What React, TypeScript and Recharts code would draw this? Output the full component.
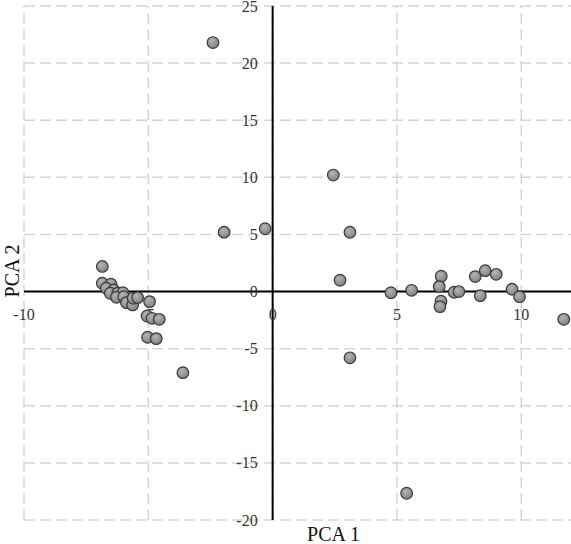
import { ScatterChart, Scatter, XAxis, YAxis, ReferenceLine, ReferenceDot } from 'recharts';

// PCA scores
const pcaX = [
  -2.4, -1.95, -0.3, -6.85, -6.85, -6.5, -6.69, -6.39, -6.53, -6.23, -6.02,
  -6.28, -5.99, -5.88, -5.63, -5.61, -5.43, -4.95, -5.05, -4.85, -4.56, -5.03,
  -4.68, -3.61, 2.44, 3.11, 2.71, 3.11, 4.76, 5.59, 5.39, 6.78, 6.7, 6.77,
  6.73, 7.3, 7.49, 8.15, 8.55, 8.99, 8.35, 9.63, 9.93, 11.71,
];
const pcaY = [
  21.8, 5.2, 5.5, 2.2, 0.73, 0.64, 0.29, 0.14, -0.15, -0.15, -0.1,
  -0.5, -0.45, -0.97, -1.17, -0.59, -0.53, -0.88, -2.14, -2.34, -2.43, -4.0,
  -4.12, -7.1, 10.2, 5.19, 0.99, -5.8, -0.1, 0.11, -17.66, 1.34, 0.43, -0.85,
  -1.32, -0.06, 0, 1.31, 1.83, 1.51, -0.36, 0.2, -0.45, -2.43,
];
const xTicks = [-10, -5, 0, 5, 10];
const yTicks = [-20, -15, -10, -5, 0, 5, 10, 15, 20, 25];

const points = pcaX.map((x, i) => ({ x, y: pcaY[i] }));

const font = "'Liberation Serif', 'Times New Roman', serif";

const Dot = (props: any) => (
  <circle cx={props.cx} cy={props.cy} r={5.8} fill="url(#dotFill)" stroke="#3a3a3a" strokeWidth={1.2} />
);

const gridStyle = { stroke: '#d6d6d6', strokeWidth: 1.5, strokeDasharray: '11 5' };

// tick label drawn next to a zero-radius reference dot sitting on the axis
const tickLabel = (value: number, side: 'x' | 'y') => (props: any) => {
  const vb = props.viewBox || {};
  const x = side === 'x' ? vb.x : vb.x - 15;
  const y = side === 'x' ? vb.y + 23 : vb.y;
  return (
    <text
      x={x}
      y={y}
      textAnchor={side === 'x' ? 'middle' : 'end'}
      dominantBaseline="central"
      fontSize={16}
      fill="#333"
      style={{ fontFamily: font }}
    >
      {value}
    </text>
  );
};

export default function App() {
  return (
    <div style={{ position: 'absolute', left: 0, top: 0, fontFamily: font }}>
      <ScatterChart width={571} height={544} margin={{ top: 6, right: 0, left: 0, bottom: 0 }}>
        <defs>
          <radialGradient id="dotFill" cx="40%" cy="35%" r="70%">
            <stop offset="0%" stopColor="#b4b4b4" />
            <stop offset="100%" stopColor="#7e7e7e" />
          </radialGradient>
        </defs>
        <XAxis
          type="number"
          dataKey="x"
          domain={[-10, 12]}
          ticks={xTicks}
          allowDataOverflow
          tick={false}
          axisLine={false}
          tickLine={false}
          height={24}
          label={{ value: 'PCA 1', position: 'center', dx: 36, dy: 2, fontSize: 20, fill: '#111', style: { fontFamily: font } }}
        />
        <YAxis
          type="number"
          dataKey="y"
          domain={[-20, 25]}
          ticks={yTicks}
          allowDataOverflow
          tick={false}
          axisLine={false}
          tickLine={false}
          width={24}
          label={{ value: 'PCA 2', position: 'center', angle: -90, dy: 8, fontSize: 20, fill: '#111', style: { fontFamily: font } }}
        />
        {xTicks.map((t) => (
          <ReferenceLine key={'gx' + t} x={t} {...gridStyle} />
        ))}
        {yTicks.map((t) => (
          <ReferenceLine key={'gy' + t} y={t} {...gridStyle} />
        ))}
        <ReferenceLine y={0} stroke="#000" strokeWidth={2} />
        <ReferenceLine x={0} stroke="#000" strokeWidth={2} />
        {xTicks.map((t) => (
          <ReferenceDot key={'xt' + t} x={t} y={0} r={0} stroke="none" label={{ content: tickLabel(t, 'x') }} />
        ))}
        {yTicks.map((t) => (
          <ReferenceDot key={'yt' + t} x={0} y={t} r={0} stroke="none" label={{ content: tickLabel(t, 'y') }} />
        ))}
        <Scatter data={points} shape={Dot} isAnimationActive={false} />
      </ScatterChart>
    </div>
  );
}
